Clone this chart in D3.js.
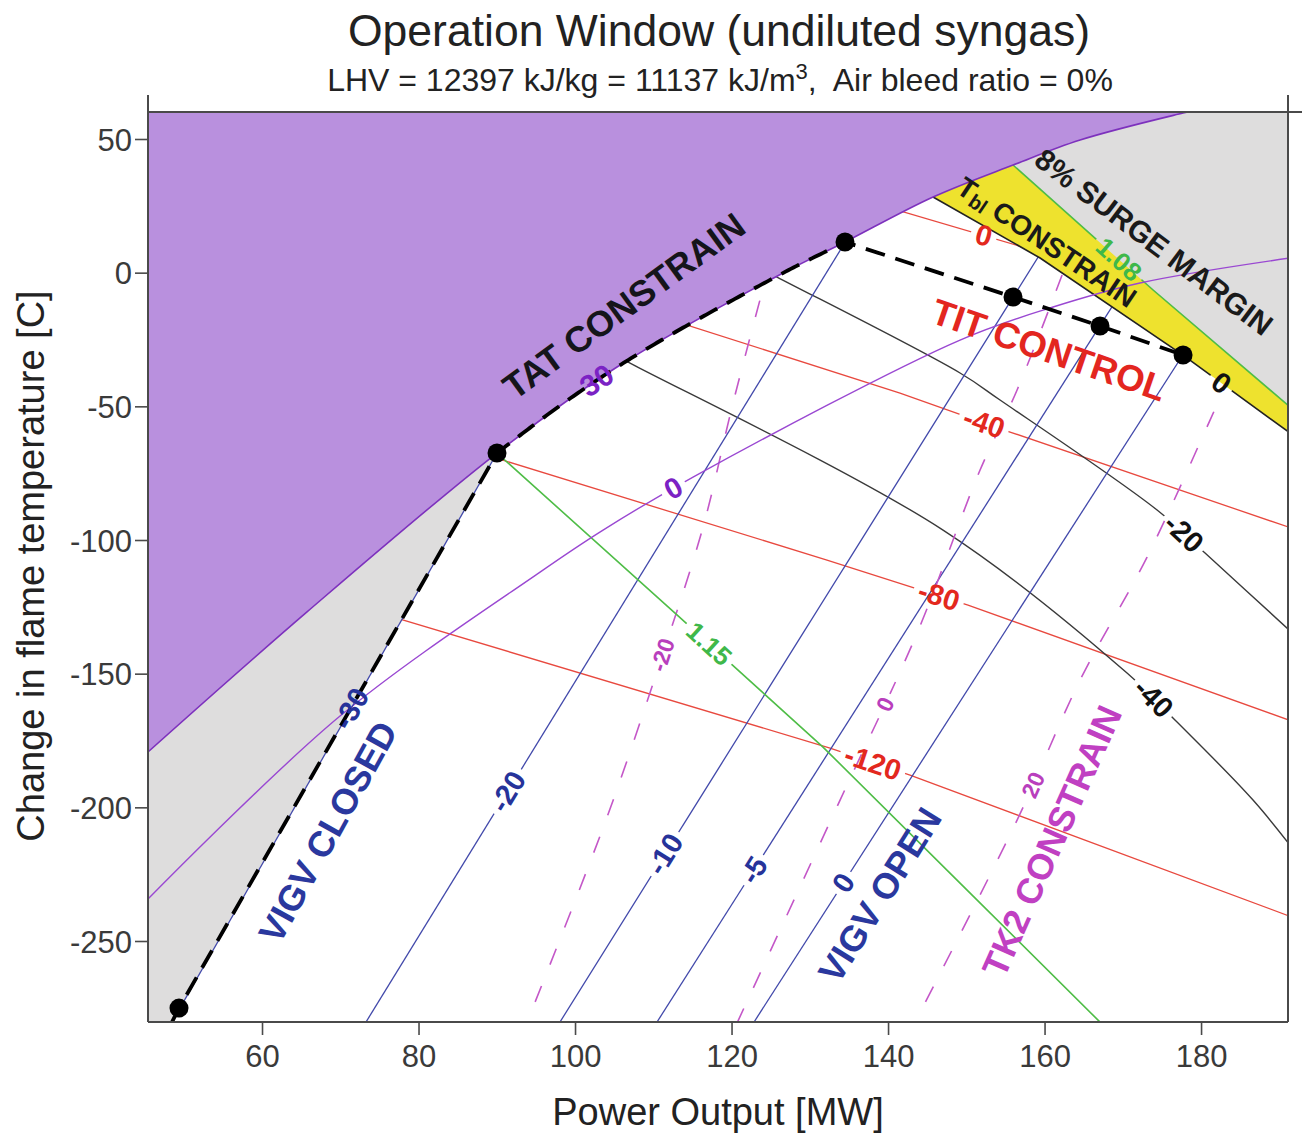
<!DOCTYPE html>
<html>
<head>
<meta charset="utf-8">
<script src="https://cdn.jsdelivr.net/npm/d3@7"></script>
<style>
  body { margin: 0; background: #fff; }
  svg text { font-family: "Liberation Sans", Arial, Helvetica, sans-serif; }
</style>
</head>
<body>
<svg id="chart" width="1302" height="1138"></svg>
<script>
// ---------------- data: power output [MW] vs change in flame temperature [C] ----------------
const xTicks = [60, 80, 100, 120, 140, 160, 180];
const yTicks = [50, 0, -50, -100, -150, -200, -250];

// TAT isolines; level 30 is the TAT constraint (upper edge of the window)
const tatLevels = [30, 0];
const tat30 = [[45.43,-179.3],[65.75,-126.9],[90.03,-67.47],[105.37,-35.3],[126.58,-0.13],[134.25,11.09],
               [145.75,28.3],[155.97,40.27],[164.54,49.63],[177.7,59.73],[191.4,68.7]];
const tat0  = [[45.43,-234.32],[69.97,-165.86],[95.53,-111.99],[103.58,-96.28],[115.08,-76.45],[149.2,-25.2],
               [161.09,-12.85],[172.2,-3.87],[191.37,5.48]];

// VIGV angle isolines (bottom point, top point); -30 = VIGV closed, 0 = VIGV open
const vigvLevels = [-30, -20, -10, -5, 0];
const vigvLines = [
  [[48.5,-280.3],[90.03,-67.47]],
  [[73.29,-280.3],[136.42,20.44]],
  [[98.08,-280.3],[161.98,18.95]],
  [[110.48,-280.3],[173.23,8.47]],
  [[122.88,-280.3],[183.83,-2.75]]
];

// TIT isolines
const titLevels = [0, -40, -80, -120];
const titLines = [
  [[136.42,27.55],[161.98,5.48]],
  [[108.31,-13.97],[141.53,-45.02],[155.59,-59.61],[192.65,-96.65]],
  [[86.58,-66.35],[132.2,-107.5],[150.22,-124.34],[192.65,-168.86]],
  [[75.08,-127.33],[132.59,-177.83],[142.81,-187.93],[192.65,-242.18]]
];

// blade temperature isolines; level 0 is the T_bl constraint
const bladeLevels = [0, -20, -40];
const bladeLines = [
  [[145.75,28.3],[159.43,5.48],[177.7,-30.81],[191.37,-59.99]],
  [[121.8,4.5],[125.81,-1.63],[149.2,-37.54],[154.31,-47.64],[174.38,-88.8],[180.51,-104.88],[192.65,-137.43]],
  [[104.47,-29.69],[107.03,-33.8],[147.03,-96.28],[170.54,-149.78],[176.93,-168.11],[186.64,-197.29],[192.65,-218.99]]
];

// surge margin isolines (pressure ratio factor); 1.08 = 8 % surge margin
const surgeLevels = [1.08, 1.15];
const surgeLines = [
  [[153.04,47.76],[155.97,40.27],[173.87,-6.49],[191.37,-50.26],[194,-57]],
  [[88.5,-63.4],[90.03,-67.47],[112.78,-127.33],[131.69,-177.46],[149.2,-228.33],[167.09,-280.34]]
];

// TK2 isolines
const tk2Levels = [-20, 0, 20];
const tk2Lines = [
  [[124.92,3.98],[120.19,-48.77],[116.36,-95.15],[111.25,-142.29],[104.09,-203.65],[93.87,-280.34]],
  [[162.24,-0.88],[156.49,-43.9],[151.76,-73.83],[143.71,-134.81],[133.87,-197.29],[120.7,-280.71]],
  [[183.71,-38.29],[181.15,-55.13],[173.1,-106.38],[164.54,-152.4],[156.49,-204.77],[143.45,-280.34]]
];

// operating points on the TIT control schedule
const titDots = [[49.39,-275.1],[90.03,-67.47],[134.5,11.47],[155.97,-9.11],[167.09,-19.96],[177.7,-30.81]];

// ---------------- layout ----------------
const W = 1302, H = 1138;
const M = { left: 148, right: 1288, top: 112, bottom: 1022 };
const FONT = '"Liberation Sans", Arial, Helvetica, sans-serif';

const x = d3.scaleLinear().domain([45.43, 191.11]).range([M.left, M.right]);
const y = d3.scaleLinear().domain([-280.3, 60.1]).range([M.bottom, M.top]);
const straight = d3.line().x(d => x(d[0])).y(d => y(d[1]));
const smooth = d3.line().x(d => x(d[0])).y(d => y(d[1])).curve(d3.curveCatmullRom.alpha(0.5));

// point on the line through a and b at a given temperature / power value
const atY = (a, b, v) => [a[0] + (b[0] - a[0]) * (v - a[1]) / (b[1] - a[1]), v];
const atX = (a, b, u) => [u, a[1] + (b[1] - a[1]) * (u - a[0]) / (b[0] - a[0])];

const svg = d3.select('#chart');
const defs = svg.append('defs');

defs.append('clipPath').attr('id', 'plotClip').append('rect')
  .attr('x', M.left).attr('y', M.top).attr('width', M.right - M.left).attr('height', M.bottom - M.top);

const tatD = smooth(tat30);
defs.append('clipPath').attr('id', 'underTAT').append('path')
  .attr('d', tatD + `L${x(200)},${y(-330)}L${x(40)},${y(-330)}L${x(40)},${y(tat30[0][1])}Z`);

// blade limit and surge line, extended past the plot so the regions close cleanly
const blade = bladeLines[0], surge = surgeLines[0], closed = vigvLines[0];
const bladeExt = [atY(blade[0], blade[1], 45), ...blade, atX(blade[blade.length - 2], blade[blade.length - 1], 200)];
const surgeExt = [atY(surge[0], surge[1], 75), ...surge, atX(surge[surge.length - 2], surge[surge.length - 1], 200)];
const feasible = [atY(closed[0], closed[1], -330), atY(closed[0], closed[1], 40), ...bladeExt,
                  [200, bladeExt[bladeExt.length - 1][1]], [200, -330]];
defs.append('clipPath').attr('id', 'feasClip').append('path').attr('d', straight(feasible) + 'Z');

const plot = svg.append('g').attr('clip-path', 'url(#plotClip)');
plot.append('rect').attr('x', M.left).attr('y', M.top).attr('width', M.right - M.left)
  .attr('height', M.bottom - M.top).attr('fill', '#dedddd');

const under = plot.append('g').attr('clip-path', 'url(#underTAT)');
under.append('path').attr('d', straight(feasible) + 'Z').attr('fill', '#ffffff');
under.append('path').attr('d', straight([...bladeExt, ...surgeExt.slice().reverse()]) + 'Z').attr('fill', '#eee22e');

const feas = under.append('g').attr('clip-path', 'url(#feasClip)');
const labelG = svg.append('g');

let gapId = 0;
// put a level label on a line, rotated along it, with a gap cut in the line
function labelLine(path, text, at, o) {
  const node = path.node(), L = node.getTotalLength();
  let best = 0, bd = Infinity;
  for (let s = 0; s <= L; s += 0.5) {
    const q = node.getPointAtLength(s);
    const d = (q.x - at[0]) ** 2 + (q.y - at[1]) ** 2;
    if (d < bd) { bd = d; best = s; }
  }
  const q = node.getPointAtLength(best);
  const a = node.getPointAtLength(Math.max(0, best - 8)), b = node.getPointAtLength(Math.min(L, best + 8));
  let ang = Math.atan2(b.y - a.y, b.x - a.x) * 180 / Math.PI;
  if (ang > 90) ang -= 180; else if (ang < -90) ang += 180;
  const tf = `translate(${q.x},${q.y}) rotate(${ang})`;
  const t = labelG.append('text').attr('transform', tf)
    .attr('text-anchor', 'middle').attr('dominant-baseline', 'central')
    .attr('font-size', o.size).attr('font-weight', 'bold').attr('fill', o.fill).text(text);
  if (o.gap !== false) {
    const bb = t.node().getBBox();
    const id = 'gap' + (gapId++);
    const m = defs.append('mask').attr('id', id).attr('maskUnits', 'userSpaceOnUse')
      .attr('x', 0).attr('y', 0).attr('width', W).attr('height', H);
    m.append('rect').attr('width', W).attr('height', H).attr('fill', '#fff');
    const hh = o.size * 0.55;
    m.append('rect').attr('x', bb.x - 5).attr('y', -hh).attr('width', bb.width + 10).attr('height', 2 * hh)
      .attr('transform', tf).attr('fill', '#000');
    path.attr('mask', `url(#${id})`);
  }
}

function drawLine(g, pts, gen, style) {
  const p = g.append('path').attr('d', gen(pts)).attr('fill', 'none')
    .attr('stroke', style.color).attr('stroke-width', style.width);
  if (style.dash) p.attr('stroke-dasharray', style.dash);
  return p;
}

// ---- isolines inside the operating window ----
const redLabelAt = [[983,238],[983,426],[938,598],[872,765]];
titLines.forEach((pts, i) => {
  const p = drawLine(feas, pts, straight, { color: '#e8493f', width: 1.3 });
  labelLine(p, String(titLevels[i]), redLabelAt[i], { size: 29, fill: '#e3281e' });
});

const blackLabelAt = [[1222,382],[1182,535],[1152,700]];
bladeLines.slice(1).forEach((pts, i) => {
  const p = drawLine(feas, pts, smooth, { color: '#3a3a3a', width: 1.4 });
  labelLine(p, String(bladeLevels[i + 1]), blackLabelAt[i + 1], { size: 29, fill: '#111' });
});

const blueLabelAt = [[348,707],[505,790],[663,853],[750,868],[836,878]];
vigvLines.slice(1).forEach((pts, i) => {
  const p = drawLine(feas, pts, straight, { color: '#4148aa', width: 1.3 });
  labelLine(p, String(vigvLevels[i + 1]), blueLabelAt[i + 1], { size: 29, fill: '#26339a' });
});

const tk2LabelAt = [[663,655],[883,703],[1033,785]];
tk2Lines.forEach((pts, i) => {
  const p = drawLine(feas, pts, smooth, { color: '#c457c8', width: 1.6, dash: '17,23' });
  labelLine(p, String(tk2Levels[i]), tk2LabelAt[i], { size: 23, fill: '#b93fbd' });
});

const greenLabelAt = [[1120,258],[708,645]];
{
  const p = drawLine(feas, surgeLines[1], straight, { color: '#4fbd47', width: 1.6 });
  labelLine(p, surgeLevels[1].toFixed(2), greenLabelAt[1], { size: 26, fill: '#3fb84a' });
}

// ---- boundary lines ----
{
  const p = drawLine(under, bladeExt, straight, { color: '#222', width: 1.6 });
  labelLine(p, String(bladeLevels[0]), blackLabelAt[0], { size: 29, fill: '#111' });
  const s = drawLine(under, surgeExt, straight, { color: '#4fbd47', width: 1.6 });
  labelLine(s, surgeLevels[0].toFixed(2), greenLabelAt[0], { size: 26, fill: '#3fb84a' });
}

// region above the TAT constraint
plot.append('path')
  .attr('d', tatD + `L${x(200)},${y(100)}L${x(40)},${y(100)}L${x(40)},${y(tat30[0][1])}Z`)
  .attr('fill', '#b990de');

const purpleLabelAt = [[598,382],[673,487]];
{
  const p0 = drawLine(plot, tat0, smooth, { color: '#9a48d2', width: 1.4 });
  labelLine(p0, String(tatLevels[1]), purpleLabelAt[1], { size: 29, fill: '#7b22c4' });
}
const tatPath = drawLine(plot, tat30, smooth, { color: '#7d31bd', width: 1.6 });

// VIGV closed line
{
  const p = drawLine(plot, vigvLines[0], straight, { color: '#4148aa', width: 1.3 });
  labelLine(p, String(vigvLevels[0]), blueLabelAt[0], { size: 29, fill: '#26339a', gap: false });
}

// TIT control schedule: VIGV closed line, along the TAT constraint, then across the dots
const tatNode = tatPath.node(), tatLen = tatNode.getTotalLength();
const along = [];
for (let s = 0; s <= tatLen; s += 3) {
  const q = tatNode.getPointAtLength(s);
  if (q.x > x(titDots[1][0]) + 1 && q.x < x(titDots[2][0]) - 1) along.push([x.invert(q.x), y.invert(q.y)]);
}
const schedule = [vigvLines[0][0], titDots[0], titDots[1], ...along, ...titDots.slice(2)];
drawLine(plot, schedule, straight, { color: '#000', width: 3.8, dash: '20,11' });
labelLine(tatPath, String(tatLevels[0]), purpleLabelAt[0], { size: 30, fill: '#7b22c4', gap: false });

plot.selectAll('circle.op').data(titDots).join('circle').attr('class', 'op')
  .attr('cx', d => x(d[0])).attr('cy', d => y(d[1])).attr('r', 9.5).attr('fill', '#000');

// ---- region labels ----
const regionLabels = [
  { text: 'TAT CONSTRAIN',   cx: 624,  cy: 306, rot: -36, size: 36,   fill: '#15151a' },
  { text: 'VIGV CLOSED',     cx: 328,  cy: 832, rot: -61, size: 36,   fill: '#2a389e' },
  { text: 'VIGV OPEN',       cx: 880,  cy: 895, rot: -58, size: 36,   fill: '#2a389e' },
  { text: 'TK2 CONSTRAIN',   cx: 1052, cy: 841, rot: -66, size: 36,   fill: '#c040c2' },
  { text: 'TIT CONTROL',     cx: 1049, cy: 350, rot: 19,  size: 36.5, fill: '#e3261f' },
  { text: '8% SURGE MARGIN', cx: 1154, cy: 242, rot: 37,  size: 30,   fill: '#1a1a1a' }
];
regionLabels.forEach(r => {
  labelG.append('text').attr('transform', `translate(${r.cx},${r.cy}) rotate(${r.rot})`)
    .attr('text-anchor', 'middle').attr('dominant-baseline', 'central')
    .attr('font-size', r.size).attr('font-weight', 'bold').attr('fill', r.fill).text(r.text);
});
{
  const t = labelG.append('text').attr('transform', 'translate(1047,242) rotate(34)')
    .attr('text-anchor', 'middle').attr('dominant-baseline', 'central')
    .attr('font-size', 28).attr('font-weight', 'bold').attr('fill', '#1a1a1a');
  t.append('tspan').text('T');
  t.append('tspan').attr('font-size', 20).attr('dy', 7).text('bl');
  t.append('tspan').attr('dy', -7).text(' CONSTRAIN');
}

// ---- axes and frame ----
const axisColor = '#4a4a4a';
const frame = svg.append('g').attr('stroke', axisColor).attr('stroke-width', 2).attr('fill', 'none');
frame.append('line').attr('x1', M.left).attr('x2', W).attr('y1', M.top).attr('y2', M.top);
frame.append('line').attr('x1', M.left).attr('x2', M.right).attr('y1', M.bottom).attr('y2', M.bottom);
frame.append('line').attr('x1', M.left).attr('x2', M.left).attr('y1', 95).attr('y2', M.bottom);
frame.append('line').attr('x1', M.right).attr('x2', M.right).attr('y1', 95).attr('y2', M.bottom);

const xAxis = svg.append('g').attr('transform', `translate(0,${M.bottom})`)
  .call(d3.axisBottom(x).tickValues(xTicks).tickSize(13).tickPadding(10).tickFormat(d3.format('d')));
const yAxis = svg.append('g').attr('transform', `translate(${M.left},0)`)
  .call(d3.axisLeft(y).tickValues(yTicks).tickSize(13).tickPadding(3).tickFormat(d => String(d)));
[xAxis, yAxis].forEach(a => {
  a.select('.domain').remove();
  a.selectAll('.tick line').attr('stroke', axisColor).attr('stroke-width', 1.6);
  a.selectAll('.tick text').attr('fill', '#3a3a3a').attr('font-size', 31).attr('font-family', FONT);
});
yAxis.selectAll('.tick text').attr('dy', '0.36em');

// ---- titles ----
svg.append('text').attr('x', 719).attr('y', 46).attr('text-anchor', 'middle')
  .attr('font-size', 44.5).attr('fill', '#222').text('Operation Window (undiluted syngas)');
{
  const t = svg.append('text').attr('x', 720).attr('y', 91).attr('text-anchor', 'middle')
    .attr('font-size', 32).attr('fill', '#222').style('white-space', 'pre');
  t.append('tspan').text('LHV = 12397 kJ/kg = 11137 kJ/m');
  t.append('tspan').attr('font-size', 22).attr('dy', -12).text('3');
  t.append('tspan').attr('dy', 12).text(',  Air bleed ratio = 0%');
}
svg.append('text').attr('x', 718).attr('y', 1125).attr('text-anchor', 'middle')
  .attr('font-size', 38).attr('fill', '#222').text('Power Output [MW]');
svg.append('text').attr('transform', 'translate(44,566) rotate(-90)').attr('text-anchor', 'middle')
  .attr('font-size', 38).attr('fill', '#222').text('Change in flame temperature [C]');
</script>
</body>
</html>
